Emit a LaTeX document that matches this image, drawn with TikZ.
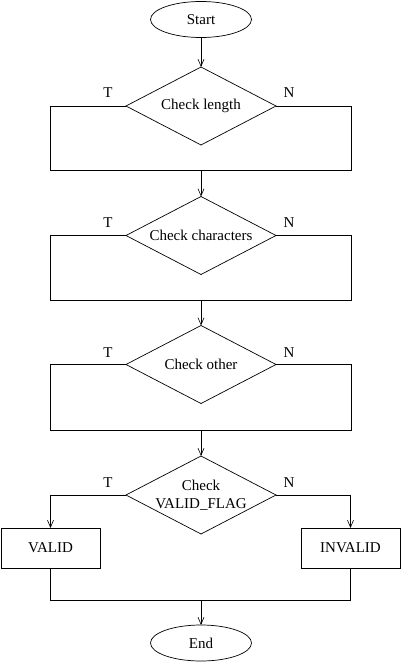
\documentclass[tikz,border=0pt]{standalone}
\usepackage{fontspec}
\setmainfont{Liberation Serif}
\usetikzlibrary{shapes.geometric,arrows.meta}
\begin{document}
\begin{tikzpicture}[x=1pt,y=-1pt,line width=0.7pt,
  every node/.style={font=\fontsize{15}{18}\selectfont},
  term/.style={ellipse, draw, minimum width=101pt, minimum height=36pt, inner sep=0pt, outer sep=0pt},
  check/.style={diamond, draw, aspect=1.92, minimum width=150pt, minimum height=78pt, inner sep=0pt, outer sep=0pt, align=center},
  result/.style={rectangle, draw, minimum width=99pt, minimum height=40pt, inner sep=0pt, outer sep=0pt},
  arr/.style={-{Straight Barb[length=7pt,width=6pt,line width=0.6pt]}}]
  \useasboundingbox (0,0) rectangle (401,666);
  \node[term] (start) at (201,19.5) {Start};
  \node[check] (len) at (201,106) {Check length};
  \node[check] (chars) at (201,235.5) {Check characters};
  \node[check] (other) at (201,364.5) {Check other};
  \node[check] (flag) at (201,495) {Check\\VALID\_FLAG};
  \node[result] (valid) at (50.5,548) {VALID};
  \node[result] (invalid) at (350.5,548) {INVALID};
  \node[term] (end) at (201,643) {End};
  % T / N labels
  \node (t1) at (108,93) {T};
  \node (n1) at (289,93) {N};
  \node (t2) at (108,223) {T};
  \node (n2) at (289,223) {N};
  \node (t3) at (108,353) {T};
  \node (n3) at (289,353) {N};
  \node (t4) at (108,483) {T};
  \node (n4) at (289,483) {N};
  % joins
  \coordinate (j1) at (201,170);
  \coordinate (l1) at (50,170);
  \coordinate (r1) at (351,170);
  \coordinate (j2) at (201,300);
  \coordinate (l2) at (50,300);
  \coordinate (r2) at (351,300);
  \coordinate (j3) at (201,430);
  \coordinate (l3) at (50,430);
  \coordinate (r3) at (351,430);
  \coordinate (j4) at (201,600);
  \coordinate (l4) at (50.5,600);
  \coordinate (r4) at (350.5,600);
  \draw[arr] (start) -- (len);
  \draw (len.west) -| (l1) -- (r1) |- (len.east);
  \draw[arr] (j1) -- (chars);
  \draw (chars.west) -| (l2) -- (r2) |- (chars.east);
  \draw[arr] (j2) -- (other);
  \draw (other.west) -| (l3) -- (r3) |- (other.east);
  \draw[arr] (j3) -- (flag);
  \draw[arr] (flag.west) -| (valid);
  \draw[arr] (flag.east) -| (invalid);
  \draw (valid) -- (l4) -- (r4) -- (invalid);
  \draw[arr] (j4) -- (end);
\end{tikzpicture}
\end{document}
